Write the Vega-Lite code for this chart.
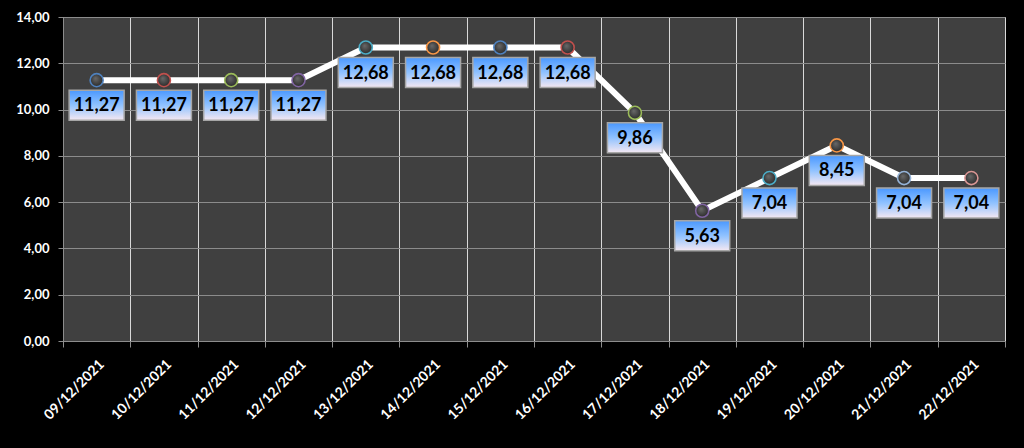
{
  "$schema": "https://vega.github.io/schema/vega-lite/v6.json",
  "width": 942,
  "height": 324,
  "autosize": {"type": "none"},
  "padding": {"left": 63, "top": 17, "right": 19, "bottom": 107},
  "background": "#000000",
  "data": {
    "values": [
      {"date": "09/12/2021", "value": 11.27},
      {"date": "10/12/2021", "value": 11.27},
      {"date": "11/12/2021", "value": 11.27},
      {"date": "12/12/2021", "value": 11.27},
      {"date": "13/12/2021", "value": 12.68},
      {"date": "14/12/2021", "value": 12.68},
      {"date": "15/12/2021", "value": 12.68},
      {"date": "16/12/2021", "value": 12.68},
      {"date": "17/12/2021", "value": 9.86},
      {"date": "18/12/2021", "value": 5.63},
      {"date": "19/12/2021", "value": 7.04},
      {"date": "20/12/2021", "value": 8.45},
      {"date": "21/12/2021", "value": 7.04},
      {"date": "22/12/2021", "value": 7.04}
    ]
  },
  "encoding": {
    "x": {
      "field": "date",
      "type": "ordinal",
      "sort": null,
      "scale": {"type": "band", "paddingInner": 0, "paddingOuter": 0},
      "axis": {
        "title": null,
        "tickBand": "extent",
        "labelAngle": -45,
        "labelColor": "#ffffff",
        "labelFont": "Lato",
        "labelFontWeight": "bold",
        "labelFontSize": 14,
        "labelPadding": 10,
        "grid": true,
        "gridColor": "#d9d9d9",
        "gridWidth": 1,
        "tickColor": "#8c8c8c",
        "tickSize": 6,
        "domainColor": "#8c8c8c"
      }
    },
    "y": {
      "field": "value",
      "type": "quantitative",
      "scale": {"domain": [0, 14], "nice": false},
      "axis": {
        "title": null,
        "values": [0, 2, 4, 6, 8, 10, 12, 14],
        "format": ".2f",
        "labelColor": "#ffffff",
        "labelFont": "Lato",
        "labelFontWeight": "bold",
        "labelFontSize": 13,
        "labelPadding": 9,
        "grid": true,
        "gridColor": "#8c8c8c",
        "gridWidth": 1,
        "tickColor": "#8c8c8c",
        "tickSize": 5,
        "domainColor": "#8c8c8c"
      }
    }
  },
  "layer": [
    {
      "mark": {"type": "line", "color": "#ffffff", "strokeWidth": 6}
    },
    {
      "mark": {
        "type": "point",
        "shape": "circle",
        "size": 170,
        "filled": true,
        "opacity": 1,
        "strokeWidth": 1.6,
        "fill": {
          "gradient": "radial",
          "x1": 0.4, "y1": 0.35, "r1": 0,
          "x2": 0.5, "y2": 0.5, "r2": 0.6,
          "stops": [
            {"offset": 0, "color": "#6a6a6a"},
            {"offset": 1, "color": "#222222"}
          ]
        }
      },
      "encoding": {
        "stroke": {
          "field": "date",
          "type": "nominal",
          "sort": null,
          "legend": null,
          "scale": {
            "range": ["#4f81bd", "#c0504d", "#9bbb59", "#8064a2", "#4bacc6", "#f79646", "#4f81bd", "#c0504d", "#9bbb59", "#8064a2", "#4bacc6", "#f79646", "#95b3d7", "#d99694"]
          }
        }
      }
    },
    {
      "mark": {
        "type": "point",
        "shape": "M-1,-0.545L1,-0.545L1,0.545L-1,0.545Z",
        "size": 3025,
        "filled": true,
        "opacity": 1,
        "yOffset": 25,
        "stroke": "#a6a6a6",
        "strokeWidth": 1.5,
        "fill": {
          "gradient": "linear",
          "x1": 0, "y1": 0, "x2": 0, "y2": 1,
          "stops": [
            {"offset": 0, "color": "#4a98ff"},
            {"offset": 0.5, "color": "#90c2ff"},
            {"offset": 1, "color": "#f5e8f2"}
          ]
        }
      }
    },
    {
      "mark": {
        "type": "text",
        "yOffset": 26,
        "baseline": "middle",
        "align": "center",
        "font": "Lato",
        "fontWeight": "bold",
        "fontSize": 18,
        "color": "#000000"
      },
      "encoding": {
        "text": {"field": "value", "type": "quantitative", "format": ".2f"}
      }
    }
  ],
  "config": {
    "locale": {
      "number": {"decimal": ",", "thousands": ".", "grouping": [3], "currency": ["", " €"]}
    },
    "view": {"fill": "#404040", "stroke": "#bfbfbf", "strokeWidth": 1}
  }
}
